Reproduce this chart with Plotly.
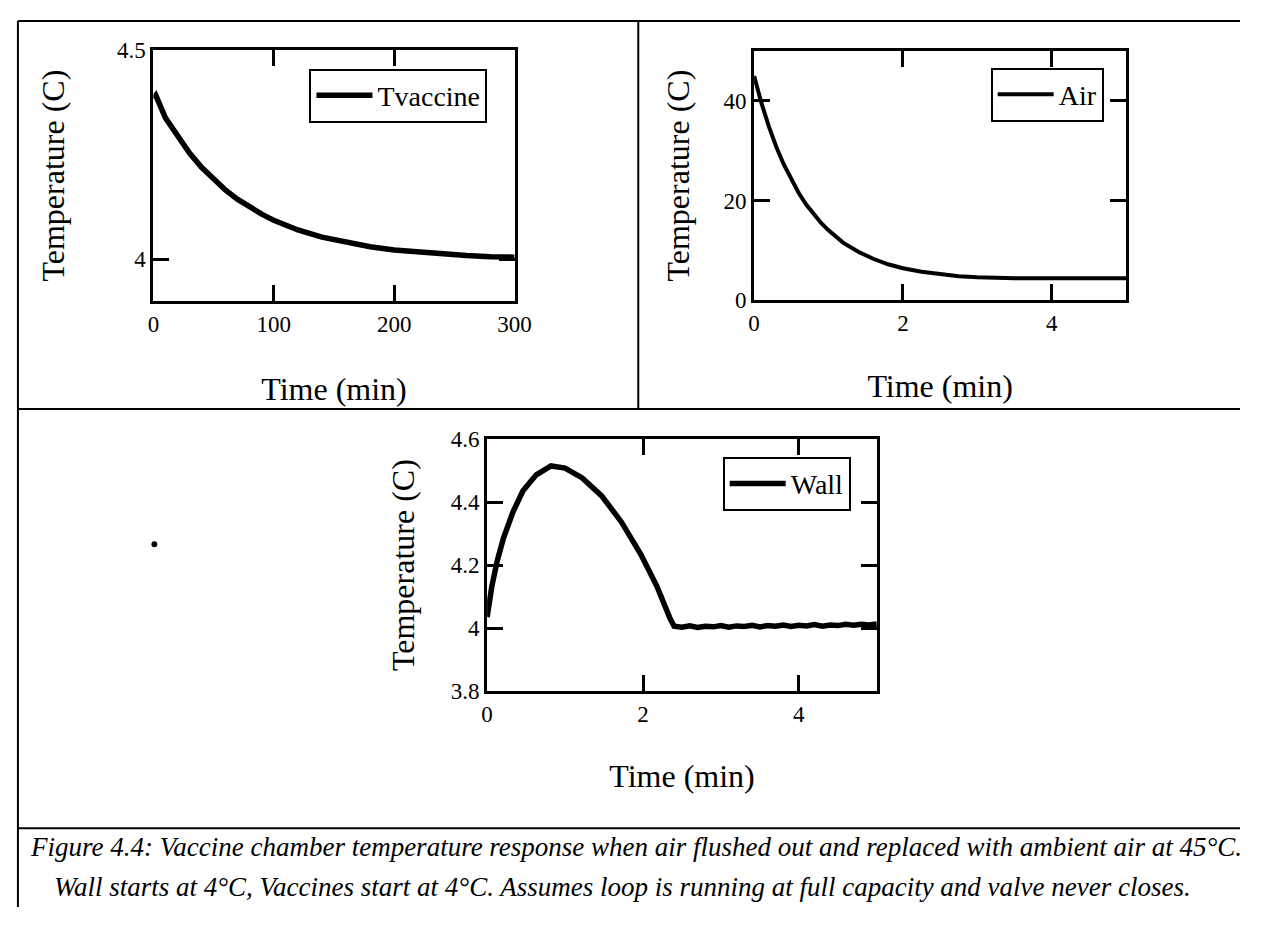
import plotly.graph_objects as go

# Page is 1265x928; the browser body keeps an 8px margin on every side, so the
# figure is 1249x912 and page pixel p maps to figure pixel p - 8.
PAGE_OFF = 8
W, H = 1249, 912
FONT = "Liberation Serif"

# ---- data ----
# Top-left: vaccine temperature vs time (min)
t_vac = [0, 2, 10, 20, 30, 40, 50, 60, 70, 80, 90, 100, 120, 140, 160, 180,
         200, 220, 240, 260, 280, 300]
T_vac = [4.385, 4.392, 4.338, 4.293, 4.254, 4.220, 4.191, 4.165, 4.143, 4.124,
         4.108, 4.093, 4.070, 4.053, 4.040, 4.030, 4.022, 4.017, 4.013, 4.009,
         4.006, 4.005]

# Top-right: air temperature vs time (min)
t_air = [0, 0.1, 0.2, 0.3, 0.4, 0.5, 0.6, 0.7, 0.8, 0.9, 1.0, 1.2, 1.4, 1.6,
         1.8, 2.0, 2.25, 2.5, 2.75, 3.0, 3.25, 3.5, 4.0, 4.5, 5.0]
T_air = [45, 39.5, 34.8, 30.7, 27.2, 24.2, 21.5, 19.2, 17.2, 15.5, 14.0, 11.5,
         9.7, 8.3, 7.2, 6.4, 5.7, 5.2, 4.8, 4.6, 4.4, 4.4, 4.4, 4.4, 4.4]

# Bottom: wall temperature vs time (min)
t_wall = [0, 0.06, 0.13, 0.21, 0.33, 0.46, 0.63, 0.82, 1.0, 1.22, 1.47, 1.72,
          1.97, 2.18, 2.35, 2.4,
          2.5, 2.6, 2.7, 2.8, 2.9, 3.0, 3.1, 3.2, 3.3, 3.4, 3.5, 3.6, 3.7,
          3.8, 3.9, 4.0, 4.1, 4.2, 4.3, 4.4, 4.5, 4.6, 4.7, 4.8, 4.9, 5.0]
T_wall = [4.035, 4.132, 4.214, 4.286, 4.368, 4.436, 4.487, 4.515, 4.508, 4.477,
          4.420, 4.338, 4.235, 4.132, 4.029, 4.006,
          4.003, 4.007, 4.002, 4.006, 4.004, 4.008, 4.003, 4.007, 4.005, 4.009,
          4.004, 4.008, 4.006, 4.010, 4.005, 4.009, 4.007, 4.011, 4.006, 4.010,
          4.008, 4.012, 4.009, 4.012, 4.010, 4.013]

vac_xticks = [0, 100, 200, 300]
vac_yticks = [4, 4.5]
air_xticks = [0, 2, 4]
air_yticks = [0, 20, 40]
wall_xticks = [0, 2, 4]
wall_yticks = [3.8, 4, 4.2, 4.4, 4.6]
wall_yticktext = ["3.8", "4", "4.2", "4.4", "4.6"]

x_title = "Time (min)"
y_title = "Temperature (C)"
caption1 = "Figure 4.4: Vaccine chamber temperature response when air flushed out and replaced with ambient air at 45°C."
caption2 = "Wall starts at 4°C, Vaccines start at 4°C. Assumes loop is running at full capacity and valve never closes."


def fx(p):
    return (p - PAGE_OFF) / W


def fy(p):
    return 1 - (p - PAGE_OFF) / H


# ---- figure ----
fig = go.Figure()
fig.add_trace(go.Scatter(x=t_vac, y=T_vac, mode="lines", name="Tvaccine",
                         line=dict(color="black", width=5.5),
                         xaxis="x", yaxis="y", legend="legend"))
fig.add_trace(go.Scatter(x=t_air, y=T_air, mode="lines", name="Air",
                         line=dict(color="black", width=4),
                         xaxis="x2", yaxis="y2", legend="legend2"))
fig.add_trace(go.Scatter(x=t_wall, y=T_wall, mode="lines", name="Wall",
                         line=dict(color="black", width=5.5),
                         xaxis="x3", yaxis="y3", legend="legend3"))


def ax(**kw):
    d = dict(showline=True, linecolor="black", linewidth=3, mirror="ticks",
             ticks="inside", ticklen=16, tickwidth=3, tickcolor="black",
             showgrid=False, zeroline=False, fixedrange=True,
             tickfont=dict(family=FONT, size=23, color="black"),
             title_font=dict(family=FONT, size=32, color="black"))
    d.update(kw)
    return d


def dom_x(a, b):
    return [fx(a), fx(b)]


def dom_y(top, bottom):
    return [fy(bottom), fy(top)]


leg = dict(font=dict(family=FONT, size=28, color="black"), bordercolor="black",
           borderwidth=2, bgcolor="white", xanchor="left", yanchor="top",
           itemwidth=56, tracegroupgap=0)

frame = dict(type="line", xref="paper", yref="paper",
             line=dict(color="black", width=2))
shapes = [
    dict(frame, x0=fx(12), x1=1, y0=fy(9), y1=fy(9)),
    dict(frame, x0=fx(12), x1=fx(12), y0=0, y1=fy(9)),
    dict(frame, x0=fx(644), x1=fx(644), y0=fy(408), y1=fy(9)),
    dict(frame, x0=fx(12), x1=1, y0=fy(408), y1=fy(408)),
    dict(frame, x0=fx(12), x1=1, y0=fy(839), y1=fy(839)),
    dict(type="circle", xref="paper", yref="paper", fillcolor="black",
         line=dict(width=0), x0=fx(148), x1=fx(154), y0=fy(550), y1=fy(544)),
]

cap_font = dict(family=FONT, size=27, color="black")
annotations = [
    dict(text="<i>" + caption1 + "</i>", xref="paper", yref="paper",
         x=fx(642), y=fy(858), showarrow=False, font=cap_font,
         xanchor="center", yanchor="middle"),
    dict(text="<i>" + caption2 + "</i>", xref="paper", yref="paper",
         x=fx(628), y=fy(899), showarrow=False, font=cap_font,
         xanchor="center", yanchor="middle"),
]

fig.update_layout(
    width=W, height=H, margin=dict(l=0, r=0, t=0, b=0),
    paper_bgcolor="white", plot_bgcolor="white", showlegend=True,
    xaxis=ax(domain=dom_x(150, 518), range=[0, 300], tickvals=vac_xticks,
             anchor="y", title=dict(text=x_title, standoff=42)),
    yaxis=ax(domain=dom_y(39, 297), range=[3.9, 4.5], tickvals=vac_yticks,
             ticktext=["4", "4.5"], anchor="x",
             title=dict(text=y_title, standoff=43)),
    xaxis2=ax(domain=dom_x(762, 1141), range=[0, 5], tickvals=air_xticks,
              anchor="y2", title=dict(text=x_title, standoff=40)),
    yaxis2=ax(domain=dom_y(40, 296), range=[0, 50], tickvals=air_yticks,
              anchor="x2", title=dict(text=y_title, standoff=25)),
    xaxis3=ax(domain=dom_x(490, 887), range=[0, 5], tickvals=wall_xticks,
              anchor="y3", title=dict(text=x_title, standoff=39)),
    yaxis3=ax(domain=dom_y(439, 698), range=[3.8, 4.6], tickvals=wall_yticks,
              ticktext=wall_yticktext, anchor="x3",
              title=dict(text=y_title, standoff=27)),
    legend=dict(leg, x=fx(309), y=fy(58)),
    legend2=dict(leg, x=fx(1003), y=fy(57)),
    legend3=dict(leg, x=fx(730), y=fy(457)),
    shapes=shapes,
    annotations=annotations,
)

fig.write_html("out.html")
